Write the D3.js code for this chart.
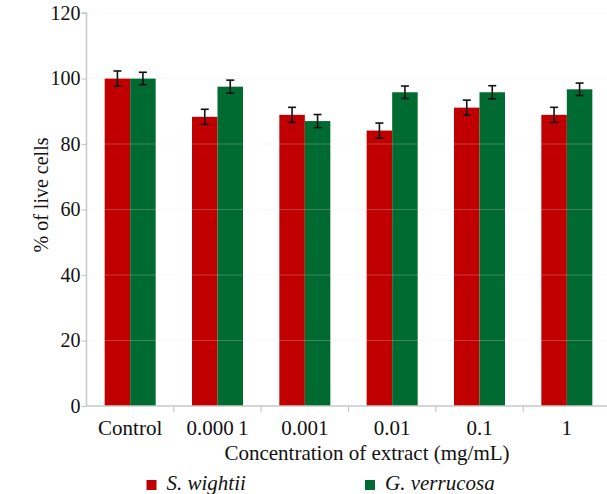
<!DOCTYPE html>
<html><head><meta charset="utf-8">
<script src="https://cdn.jsdelivr.net/npm/d3@7"></script>
<style>body{margin:0;background:#fff}</style>
</head><body>
<svg id="c" width="607" height="494"></svg>
<script>
const categories = ["Control","0.000\u20091","0.001","0.01","0.1","1"];
const seriesNames = ["S. wightii","G. verrucosa"];
const sWightii = [100, 88.3, 88.9, 84.1, 91.1, 88.9];
const sWightiiErr = [2.3, 2.3, 2.3, 2.3, 2.3, 2.3];
const gVerrucosa = [100, 97.5, 87.0, 95.8, 95.8, 96.7];
const gVerrucosaErr = [1.9, 2.0, 2.0, 1.9, 2.0, 1.9];
const yTicks = [0,20,40,60,80,100,120];
const colors = ["#c00000","#006b30"];

(function(){
const svg = d3.select("#c");
const FF = "'Liberation Serif', 'Times New Roman', serif";
const mL = 86.5, mR = 610.5, mT = 13, mB = 406;
const x = d3.scaleBand().domain(categories).range([mL, mR]).paddingInner(0).paddingOuter(0);
const y = d3.scaleLinear().domain([0,120]).range([mB, mT]);
const bw = 25.5;

const data = categories.map((c,i)=>({c, vals:[{v:sWightii[i],e:sWightiiErr[i]},{v:gVerrucosa[i],e:gVerrucosaErr[i]}]}));

data.forEach(d=>{
  const cx = x(d.c) + x.bandwidth()/2;
  d.vals.forEach((s,j)=>{
    svg.append("rect").attr("x", cx - bw + j*bw).attr("y", y(s.v))
      .attr("width", bw).attr("height", y(0)-y(s.v)).attr("fill", colors[j]);
  });
});
svg.append("g").selectAll("line").data(yTicks.filter(t=>t>0)).join("line")
  .attr("x1", mL).attr("x2", 607).attr("y1", d=>y(d)).attr("y2", d=>y(d))
  .attr("stroke", "#e8e8e8").attr("stroke-opacity", 0.25).attr("stroke-width", 1);
data.forEach(d=>{
  const cx = x(d.c) + x.bandwidth()/2;
  d.vals.forEach((s,j)=>{
    const ex = cx - bw/2 + j*bw;
    const g = svg.append("g").attr("stroke","#111").attr("stroke-width",1.6);
    g.append("line").attr("x1",ex).attr("x2",ex).attr("y1",y(s.v+s.e)).attr("y2",y(s.v-s.e));
    g.append("line").attr("x1",ex-4).attr("x2",ex+4).attr("y1",y(s.v+s.e)).attr("y2",y(s.v+s.e));
    g.append("line").attr("x1",ex-4).attr("x2",ex+4).attr("y1",y(s.v-s.e)).attr("y2",y(s.v-s.e));
  });
});

const ya = svg.append("g").attr("transform",`translate(${mL},0)`)
  .call(d3.axisLeft(y).tickValues(yTicks).tickSize(5).tickPadding(1));
ya.select(".domain").attr("stroke","#c8c8c8").attr("stroke-width",1.5).attr("d",`M-5,${mT}H0V${mB}`);
ya.selectAll(".tick line").attr("stroke","#c8c8c8").attr("stroke-width",1.2);
ya.selectAll(".tick text").style("font-family",FF).style("font-size","20px").attr("fill","#111");

const xa = svg.append("g").attr("transform",`translate(0,${mB})`)
  .call(d3.axisBottom(x).tickSize(0).tickPadding(14));
xa.select(".domain").attr("stroke","#c8c8c8").attr("stroke-width",1.5).attr("d",`M${mL},0H607`);
xa.selectAll(".tick text").style("font-family",FF).style("font-size","21px").attr("fill","#111");
xa.selectAll(".sep").data(categories.slice(1)).join("line").attr("class","sep")
  .attr("x1",d=>x(d)).attr("x2",d=>x(d)).attr("y1",0).attr("y2",6)
  .attr("stroke","#c8c8c8").attr("stroke-width",1.2);

svg.append("text").attr("transform","translate(48,195) rotate(-90)").attr("text-anchor","middle")
  .style("font-family",FF).style("font-size","20px").attr("fill","#111").text("% of live cells");
svg.append("text").attr("x",367).attr("y",460).attr("text-anchor","middle")
  .style("font-family",FF).style("font-size","21px").attr("fill","#111").text("Concentration of extract (mg/mL)");

const legX = [146.5, 365];
seriesNames.forEach((n,i)=>{
  svg.append("rect").attr("x",legX[i]).attr("y",480).attr("width",10).attr("height",10).attr("fill",colors[i]);
  svg.append("text").attr("x",legX[i]+20).attr("y",490).style("font-style","italic")
    .style("font-family",FF).style("font-size","21px").attr("fill","#111").text(n);
});
})();
</script>
</body></html>
